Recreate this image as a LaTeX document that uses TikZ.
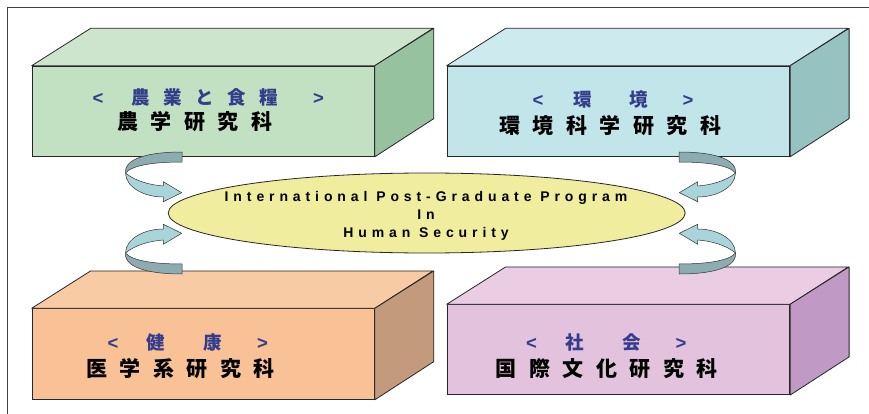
\documentclass[tikz,border=0pt]{standalone}
\usepackage{fontspec}
\usetikzlibrary{shapes.geometric}
\setmainfont{Liberation Sans}
\newfontfamily\jpfont{Noto Sans CJK JP}
\newfontfamily\latfont{Liberation Sans}
\newfontfamily\progfont{Liberation Sans Bold}[LetterSpace=35]
\definecolor{jblue}{RGB}{51,61,140}
\definecolor{gfront}{RGB}{194,224,194}
\definecolor{gtop}{RGB}{205,229,204}
\definecolor{gright}{RGB}{151,194,160}
\definecolor{cfront}{RGB}{194,229,234}
\definecolor{ctop}{RGB}{205,234,238}
\definecolor{cright}{RGB}{151,194,194}
\definecolor{ofront}{RGB}{248,193,150}
\definecolor{otop}{RGB}{249,203,165}
\definecolor{oright}{RGB}{196,154,124}
\definecolor{pfront}{RGB}{226,194,220}
\definecolor{ptop}{RGB}{234,205,227}
\definecolor{pright}{RGB}{192,153,196}
\definecolor{ellfill}{RGB}{240,238,158}
\definecolor{arrdark}{RGB}{140,172,178}
\definecolor{arrlight}{RGB}{168,212,218}
\newcommand\gsp{\hspace{13.5pt}}
\newcommand\ksp{\hspace{12.5pt}}
\newcommand\lsp{\hspace{28pt}}
\newcommand\rsp{\hspace{35pt}}
\newcommand\cubebox[8]{%
  \node[boxface, fill=#6, minimum width=#4pt, minimum height=#5pt, anchor=north west] (#1) at (#2,#3) {};
  \draw[edge, fill=#7] (#1.north west) -- ++(59,-37.4) -- ++(#4,0) -- (#1.north east) -- cycle;
  \draw[edge, fill=#8] (#1.north east) -- ++(59,-37.4) -- ++(0,#5) -- (#1.south east) -- cycle;
}
\newcommand\ribbonarrow{%
  \draw[arrline, fill=arrdark] (182,152) .. controls (150,152) and (124,158) .. (125.5,173)
     .. controls (132,165) and (155,162) .. (182,162) -- cycle;
  \draw[arrline, fill=arrlight] (125.5,173) .. controls (126,188) and (145,197) .. (163.3,197)
     -- (163.3,201.7) -- (181.7,192.7) -- (163.3,181.7) -- (163.3,186)
     .. controls (150,185) and (135,181) .. (125.5,173) -- cycle;
}
\begin{document}
\begin{tikzpicture}[x=1pt,y=-1pt,
  boxface/.style={draw=black!85, line width=0.8pt, rectangle, inner sep=0pt},
  edge/.style={draw=black!85, line width=0.8pt, line join=round},
  arrline/.style={draw=black!80, line width=0.5pt, line join=round},
  bluetxt/.style={text=jblue, inner sep=0pt, anchor=west, font={\jpfont\bfseries\fontsize{18.5}{20}\selectfont}},
  blacktxt/.style={text=black, inner sep=0pt, anchor=west, font={\jpfont\bfseries\fontsize{21}{24}\selectfont}},
  progtxt/.style={inner sep=0pt, align=center, font={\progfont\fontsize{14}{18}\selectfont}},
  frameline/.style={draw=black!75, line width=1pt}]
\useasboundingbox (0,0) rectangle (869,414);
\fill[white] (0,0) rectangle (869,414);
\draw[frameline] (7,414) -- (7,7.5) -- (869,7.5);
% boxes
\cubebox{agri}{31.7}{65.7}{342.3}{90.3}{gfront}{gtop}{gright}
\cubebox{env}{446.7}{65.7}{342.6}{90.3}{cfront}{ctop}{cright}
\cubebox{med}{31.7}{308.3}{342.3}{90.7}{ofront}{otop}{oright}
\cubebox{soc}{446.7}{304.3}{342.6}{90}{pfront}{ptop}{pright}
% box texts
\node[bluetxt] (agriA) at (92.5,97) {{\latfont <}\lsp 農\gsp 業\gsp と\gsp 食\gsp 糧\rsp{\latfont >}};
\node[blacktxt] (agriB) at (117.3,122) {農\ksp 学\ksp 研\ksp 究\ksp 科};
\node[bluetxt] (envA) at (532.5,100) {{\latfont <}\hspace{30pt}環\hspace{37pt}境\rsp{\latfont >}};
\node[blacktxt] (envB) at (499,126) {環\ksp 境\ksp 科\ksp 学\ksp 研\ksp 究\ksp 科};
\node[bluetxt] (medA) at (107.5,342.7) {{\latfont <}\lsp 健\hspace{38.7pt}康\rsp{\latfont >}};
\node[blacktxt] (medB) at (86.3,369) {医\ksp 学\ksp 系\ksp 研\ksp 究\ksp 科};
\node[bluetxt] (socA) at (526,342.7) {{\latfont <}\lsp 社\hspace{38.7pt}会\rsp{\latfont >}};
\node[blacktxt] (socB) at (495.7,368.7) {国\ksp 際\ksp 文\ksp 化\ksp 研\ksp 究\ksp 科};
% arrows
\ribbonarrow
\begin{scope}[shift={(861,0)}, xscale=-1]\ribbonarrow\end{scope}
\begin{scope}[shift={(0,426)}, yscale=-1]\ribbonarrow\end{scope}
\begin{scope}[shift={(861,426)}, xscale=-1, yscale=-1]\ribbonarrow\end{scope}
% central ellipse
\node[ellipse, draw=black!85, line width=0.8pt, fill=ellfill, minimum width=517pt, minimum height=80pt, inner sep=0pt] (prog) at (426.7,213) {};
\node[progtxt] (progt) at (426,216) {International Post-Graduate Program\\In\\Human Security};
\end{tikzpicture}
\end{document}
